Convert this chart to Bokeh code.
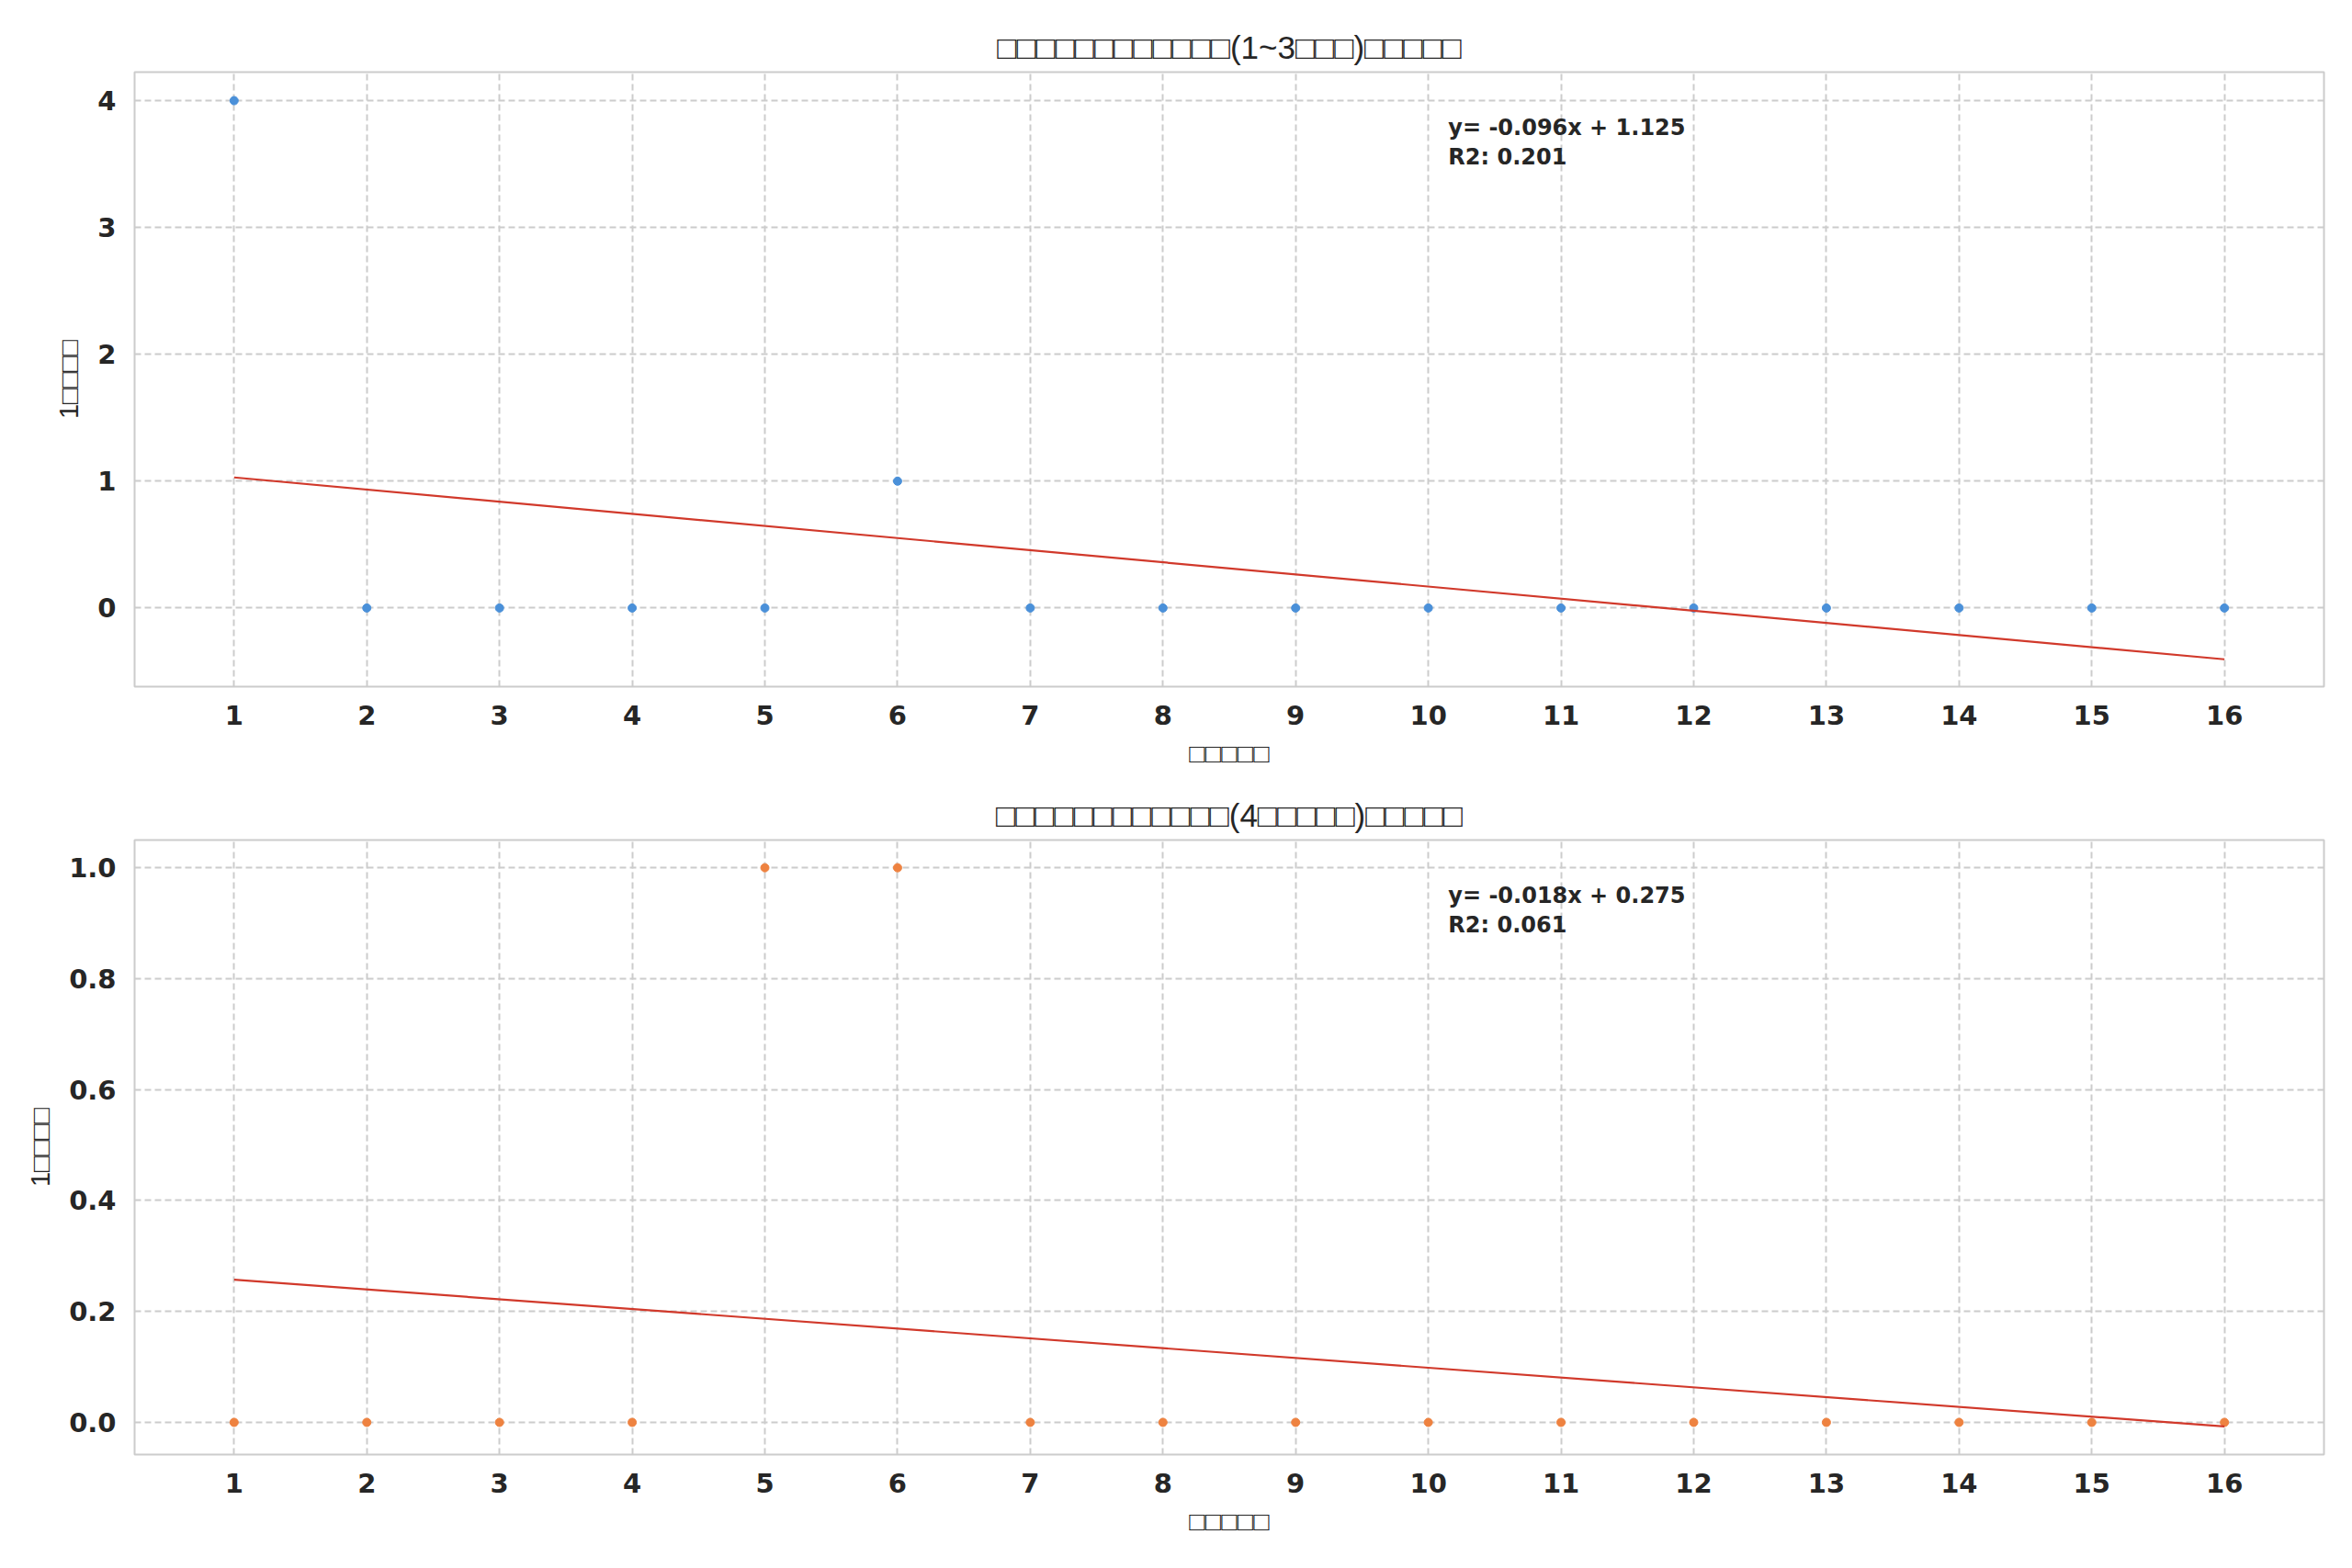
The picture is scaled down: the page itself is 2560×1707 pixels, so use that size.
from bokeh.plotting import figure
from bokeh.models import FixedTicker, PrintfTickFormatter, Range1d, Label, Column
from bokeh.embed import file_html
from bokeh.resources import INLINE

# ---- data ----
months = list(range(1, 17))
counts_top = [4, 0, 0, 0, 0, 1, 0, 0, 0, 0, 0, 0, 0, 0, 0, 0]
counts_bottom = [0, 0, 0, 0, 1, 1, 0, 0, 0, 0, 0, 0, 0, 0, 0, 0]
fit_top = (-0.096, 1.125, 0.201)      # slope, intercept, R2
fit_bottom = (-0.018, 0.275, 0.061)
fit_top_exact = (-0.0956, 1.125)
fit_bottom_exact = (-0.01765, 0.275)

title_top = "□□□□□□□□□□□□(1~3□□□)□□□□□"
title_bottom = "□□□□□□□□□□□□(4□□□□□)□□□□□"
xlabel = "□□□□□"
ylabel = "1□□□□"
yticks_top = [0, 1, 2, 3, 4]
yticks_bottom = [0.0, 0.2, 0.4, 0.6, 0.8, 1.0]

FONT = "DejaVu Sans"
LFONT = "Liberation Sans"
TXT = "#262626"
GRID = "#cccccc"


def make(ys, fit, fit_exact, yr, yticks, fmt, color, title, min_top, min_bottom):
    p = figure(output_backend="svg", toolbar_location=None,
               frame_width=2383, frame_height=669,
               min_border_left=146, min_border_right=20,
               min_border_top=min_top, min_border_bottom=min_bottom,
               x_range=Range1d(0.25, 16.75), y_range=Range1d(*yr),
               title=title, background_fill_color="white",
               border_fill_color="white")
    p.title.align = "center"
    p.title.text_font = LFONT
    p.title.text_font_size = "35px"
    p.title.text_font_style = "normal"
    p.title.text_color = TXT
    p.title.standoff = 15

    p.outline_line_color = GRID
    p.outline_line_width = 2

    for ax in (p.xaxis[0], p.yaxis[0]):
        ax.axis_line_color = None
        ax.major_tick_line_color = None
        ax.minor_tick_line_color = None
        ax.major_tick_out = 0
        ax.major_tick_in = 0
        ax.minor_tick_out = 0
        ax.major_label_text_font = FONT
        ax.major_label_text_font_style = "bold"
        ax.major_label_text_font_size = "29px"
        ax.major_label_text_color = TXT
        ax.major_label_standoff = 20
        ax.axis_label_text_font = LFONT
        ax.axis_label_text_font_style = "normal"
        ax.axis_label_text_font_size = "29px"
        ax.axis_label_text_color = TXT

    p.xaxis.ticker = FixedTicker(ticks=months)
    p.xaxis.axis_label = xlabel
    p.xaxis.axis_label_standoff = 12
    p.yaxis.ticker = FixedTicker(ticks=yticks)
    if fmt:
        p.yaxis.formatter = PrintfTickFormatter(format=fmt)
    p.yaxis.axis_label = ylabel
    p.yaxis.axis_label_standoff = 12

    for g in (p.xgrid[0], p.ygrid[0]):
        g.grid_line_color = GRID
        g.grid_line_width = 2
        g.grid_line_dash = "7 4"

    p.scatter(months, ys, size=9, color=color, line_color=color)

    xs = [min(months), max(months)]
    slope, icpt = fit_exact
    p.line(xs, [slope * x + icpt for x in xs], line_color="#d1392b", line_width=2.2)

    x0, x1 = p.x_range.start, p.x_range.end
    y0, y1 = p.y_range.start, p.y_range.end
    lx = x0 + 0.6 * (x1 - x0)
    lines = [f"y= {fit[0]:.3f}x + {fit[1]:.3f}", f"R2: {fit[2]:.3f}"]
    for i, t in enumerate(lines):
        ly = y0 + (0.91 - 0.048 * i) * (y1 - y0)
        p.add_layout(Label(x=lx, y=ly, text=t, text_font=FONT,
                           text_font_style="bold", text_font_size="24px",
                           text_color=TXT, text_baseline="alphabetic"))
    return p


p1 = make(counts_top, fit_top, fit_top_exact, (-0.62, 4.225), yticks_top, None,
          "#4a90d9", title_top, 78, 83)
p2 = make(counts_bottom, fit_bottom, fit_bottom_exact, (-0.058, 1.05), yticks_bottom,
          "%.1f", "#ee8240", title_bottom, 76, 100)

layout = Column(p1, p2, spacing=0)
open("out.html", "w").write(file_html(layout, INLINE))
